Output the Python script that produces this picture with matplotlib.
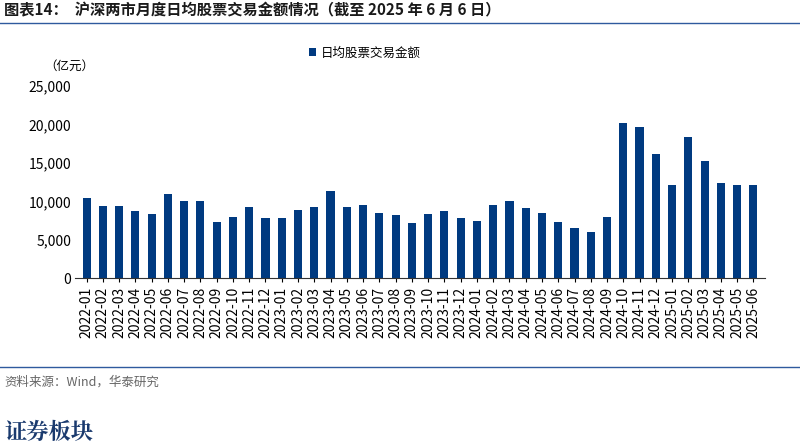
import matplotlib.pyplot as plt
import pandas as pd

plt.rcParams['font.family'] = ['Noto Sans CJK SC', 'DejaVu Sans']

# 月份和日均成交额（亿元）
months = pd.period_range('2022-01', '2025-06', freq='M').strftime('%Y-%m').tolist()
turnover = [10400, 9400, 9400, 8800, 8400, 11000, 10000, 10000, 7300, 7900, 9200, 7800,
            7800, 8900, 9200, 11400, 9200, 9500, 8500, 8200, 7200, 8300, 8800, 7800,
            7400, 9500, 10100, 9100, 8500, 7300, 6500, 6000, 7900, 20200, 19700, 16100,
            12100, 18400, 15300, 12400, 12100, 12100]

fig = plt.figure(figsize=(8, 4.48), dpi=100)
ax = fig.add_axes([0.094, 0.379, 0.862, 0.429])

ax.bar(range(len(months)), turnover, width=0.5, color='#003a80', label='日均股票交易金额')
ax.set_xlim(-0.7, len(months) - 0.3)
ax.set_ylim(0, 25000)
ax.set_yticks(range(0, 25001, 5000))
ax.set_yticklabels([f'{v:,}' for v in range(0, 25001, 5000)], fontsize=10)
ax.set_xticks(range(len(months)))
ax.set_xticklabels(months, rotation=90, fontsize=10)
ax.tick_params(axis='both', length=0, pad=3)
ax.tick_params(axis='x', length=3, direction='out')
for s in ['top', 'right', 'left']:
    ax.spines[s].set_visible(False)
ax.spines['bottom'].set_color('#333333')
ax.legend(loc='lower center', bbox_to_anchor=(0.42, 1.08), frameon=False, fontsize=9,
          handlelength=0.6, handleheight=0.6, handletextpad=0.4)

fig.text(0.055, 0.845, '（亿元）', fontsize=9)
fig.text(0.005, 0.965, '图表14：  沪深两市月度日均股票交易金额情况（截至 2025 年 6 月 6 日）',
         fontsize=11, fontweight='bold', color='#1a1a1a')
fig.add_artist(plt.Line2D([0, 1], [0.948, 0.948], color='#2f5a9e', lw=1))
fig.add_artist(plt.Line2D([0, 1], [0.18, 0.18], color='#2f5a9e', lw=1))
fig.text(0.005, 0.14, '资料来源：Wind，华泰研究', fontsize=9, color='#666666')
fig.text(0.005, 0.02, '证券板块', fontsize=16, fontweight='bold', color='#1a3a6e',
         family=['Noto Serif CJK SC', 'Noto Sans CJK SC'])

fig.savefig('out.png', dpi=100)
